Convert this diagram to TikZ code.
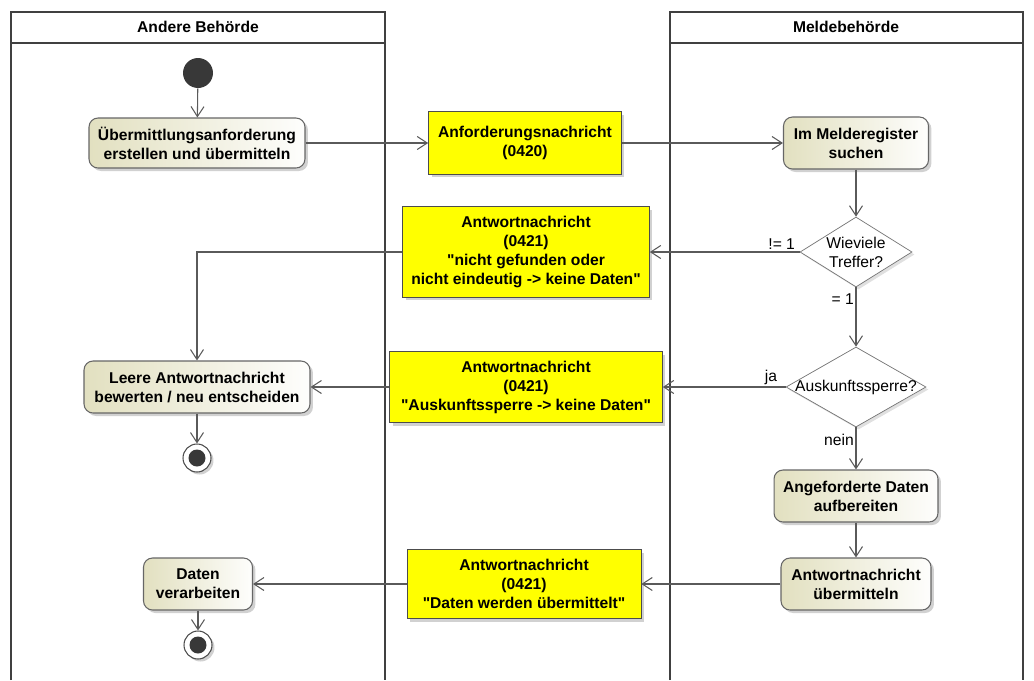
\documentclass[tikz,border=0pt]{standalone}
\usepackage{fontspec}
\setmainfont{Liberation Sans}
\usetikzlibrary{arrows.meta, shapes.geometric, shadows}

\definecolor{actfill}{RGB}{226,224,192}
\definecolor{msgfill}{RGB}{255,255,0}
\definecolor{linegray}{RGB}{90,90,90}

\begin{document}
\begin{tikzpicture}[
    x=0.02cm, y=-0.02cm,
    lane/.style={draw=black!75, line width=1.1pt},
    lanehead/.style={font=\bfseries\fontsize{8.9}{10.8}\selectfont},
    action/.style={rectangle, rounded corners=1.8mm, draw=black!60, semithick, left color=actfill, right color=white!96!actfill, align=center, inner sep=0pt, font=\bfseries\fontsize{8.9}{10.8}\selectfont, drop shadow={shadow xshift=0.6mm, shadow yshift=-0.6mm, opacity=0.3, fill=black!60}},
    message/.style={rectangle, draw=black!70, fill=msgfill, align=center, inner sep=0pt, font=\bfseries\fontsize{8.9}{10.8}\selectfont, drop shadow={shadow xshift=0.6mm, shadow yshift=-0.6mm, opacity=0.3, fill=black!60}},
    decision/.style={diamond, draw=black!55, fill=white, inner sep=0pt, drop shadow={shadow xshift=0.5mm, shadow yshift=-0.5mm, opacity=0.2, fill=black!60}},
    guard/.style={font=\fontsize{8.9}{10.8}\selectfont, inner sep=1pt, align=center},
    initial/.style={circle, fill=black!78, minimum size=0.6cm, inner sep=0pt},
    final/.style={circle, draw=black!70, semithick, fill=white, minimum size=0.56cm, inner sep=0pt, path picture={\fill[black!78] (path picture bounding box.center) circle (0.17cm);}, drop shadow={shadow xshift=0.5mm, shadow yshift=-0.5mm, opacity=0.3, fill=black!60}},
    flow/.style={-{Straight Barb[length=2mm, width=2.6mm]}, draw=linegray, semithick},
]
\useasboundingbox (0,0) rectangle (1034,680);

% Swimlanes
\draw[lane] (11,680) |- (385,12) -- (385,680);
\draw[lane] (11,43) -- (385,43);
\draw[lane] (670,680) |- (1023,12) -- (1023,680);
\draw[lane] (670,43) -- (1023,43);
\node[lanehead] (headA) at (198,27) {Andere Behörde};
\node[lanehead] (headM) at (846,27) {Meldebehörde};

% Andere Behoerde
\node[initial] (start) at (198,73) {};
\node[action, minimum width=4.32cm, minimum height=1.0cm] (act1) at (197,143) {Übermittlungsanforderung\\erstellen und übermitteln};
\node[action, minimum width=4.52cm, minimum height=1.04cm] (act3) at (197,387) {Leere Antwortnachricht\\bewerten / neu entscheiden};
\node[final] (end1) at (197,458) {};
\node[action, minimum width=2.18cm, minimum height=1.04cm] (act6) at (198,584) {Daten\\verarbeiten};
\node[final] (end2) at (198,645) {};

% Nachrichten
\node[message, minimum width=3.86cm, minimum height=1.26cm] (msg1) at (525,143) {Anforderungsnachricht\\(0420)};
\node[message, minimum width=4.94cm, minimum height=1.82cm] (msg2) at (526,252) {Antwortnachricht\\(0421)\\\textquotedbl nicht gefunden oder\\nicht eindeutig -> keine Daten\textquotedbl};
\node[message, minimum width=5.46cm, minimum height=1.42cm] (msg3) at (526,387) {Antwortnachricht\\(0421)\\\textquotedbl Auskunftssperre -> keine Daten\textquotedbl};
\node[message, minimum width=4.68cm, minimum height=1.38cm] (msg4) at (524,584) {Antwortnachricht\\(0421)\\\textquotedbl Daten werden übermittelt\textquotedbl};

% Meldebehoerde
\node[action, minimum width=2.9cm, minimum height=1.04cm] (act2) at (856,143) {Im Melderegister\\suchen};
\node[decision, minimum width=2.24cm, minimum height=1.4cm, label={[guard]center:Wieviele\\Treffer?}] (dec1) at (856,252) {};
\node[decision, minimum width=2.8cm, minimum height=1.6cm, label={[guard]center:Auskunftssperre?}] (dec2) at (856,387) {};
\node[action, minimum width=3.28cm, minimum height=1.04cm] (act4) at (856,496) {Angeforderte Daten\\aufbereiten};
\node[action, minimum width=3.0cm, minimum height=1.04cm] (act5) at (856,584) {Antwortnachricht\\übermitteln};

% Arrows
\draw[flow] (start) -- (act1);
\draw[flow] (act1) -- (msg1);
\draw[flow] (msg1) -- (act2);
\draw[flow] (act2) -- (dec1);
\draw[flow] (dec1.west) -- node[guard, pos=0.12, above] {!= 1} (msg2.east);
\draw[flow] (msg2.west) -| (act3.north);
\draw[flow] (dec1.south) -- node[guard, pos=0.2, left] {= 1} (dec2.north);
\draw[flow] (dec2.west) -- node[guard, pos=0.12, above] {ja} (msg3.east);
\draw[flow] (msg3) -- (act3);
\draw[flow] (act3) -- (end1);
\draw[flow] (dec2.south) -- node[guard, pos=0.3, left] {nein} (act4.north);
\draw[flow] (act4) -- (act5);
\draw[flow] (act5) -- (msg4);
\draw[flow] (msg4) -- (act6);
\draw[flow] (act6) -- (end2);

\end{tikzpicture}
\end{document}
